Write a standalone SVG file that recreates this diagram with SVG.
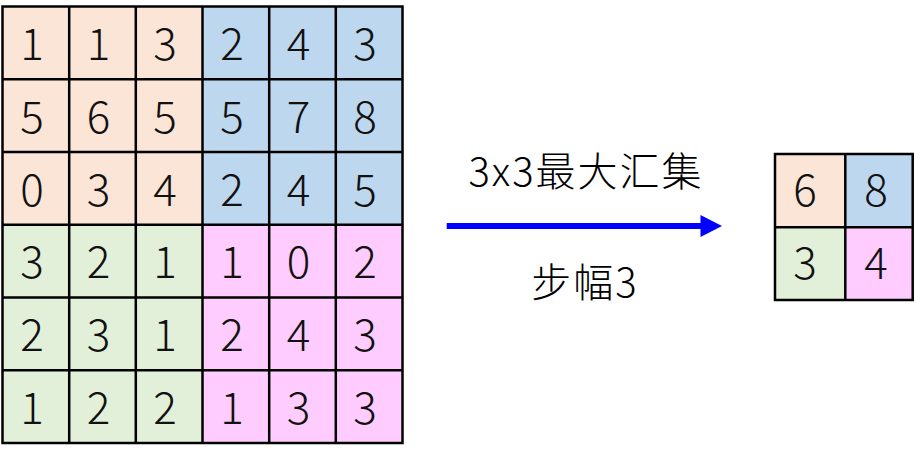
<svg xmlns="http://www.w3.org/2000/svg" width="915" height="462" viewBox="0 0 915 462">
<style>
.c{stroke:#000;stroke-width:2.5}
.o{fill:#FBE5D6}.b{fill:#BDD7EE}.g{fill:#E2F0D9}.p{fill:#FFCCFF}
.t{font-family:"Noto Sans CJK SC","Noto Sans",sans-serif;font-size:44px;font-weight:300;fill:#111;text-anchor:middle}
.l{font-family:"Noto Sans CJK SC","Noto Sans",sans-serif;font-size:40px;font-weight:300;letter-spacing:2px;fill:#000;text-anchor:middle}
</style>
<rect width="915" height="462" fill="#fff"/>
<g id="input-grid">
<rect class="o" x="2.5" y="6.5" width="200" height="218.3"/>
<rect class="b" x="202.5" y="6.5" width="200" height="218.3"/>
<rect class="g" x="2.5" y="224.8" width="200" height="218.2"/>
<rect class="p" x="202.5" y="224.8" width="200" height="218.2"/>
<g class="c" fill="none">
<rect x="2.5" y="6.5" width="400" height="436.5"/>
<path d="M69.2 6.5V443M135.8 6.5V443M202.5 6.5V443M269.2 6.5V443M335.8 6.5V443M2.5 79.3H402.5M2.5 152H402.5M2.5 224.8H402.5M2.5 297.5H402.5M2.5 370.3H402.5"/>
</g>
<g class="t">
<text x="32" y="60">1</text><text x="98.5" y="60">1</text><text x="165" y="60">3</text><text x="232" y="60">2</text><text x="298.5" y="60">4</text><text x="365" y="60">3</text>
<text x="32" y="133">5</text><text x="98.5" y="133">6</text><text x="165" y="133">5</text><text x="232" y="133">5</text><text x="298.5" y="133">7</text><text x="365" y="133">8</text>
<text x="32" y="205.5">0</text><text x="98.5" y="205.5">3</text><text x="165" y="205.5">4</text><text x="232" y="205.5">2</text><text x="298.5" y="205.5">4</text><text x="365" y="205.5">5</text>
<text x="32" y="278">3</text><text x="98.5" y="278">2</text><text x="165" y="278">1</text><text x="232" y="278">1</text><text x="298.5" y="278">0</text><text x="365" y="278">2</text>
<text x="32" y="351">2</text><text x="98.5" y="351">3</text><text x="165" y="351">1</text><text x="232" y="351">2</text><text x="298.5" y="351">4</text><text x="365" y="351">3</text>
<text x="32" y="424">1</text><text x="98.5" y="424">2</text><text x="165" y="424">2</text><text x="232" y="424">1</text><text x="298.5" y="424">3</text><text x="365" y="424">3</text>
</g>
</g>
<g id="connectors">
<path d="M446.7 226H703" stroke="#0000FF" stroke-width="6" fill="none"/>
<polygon points="700.5,215 722,226 700.5,237" fill="#0000FF"/>
</g>
<g id="labels">
<text class="l" x="586" y="186">3x3最大汇集</text>
<text class="l" x="585" y="297">步幅3</text>
</g>
<g id="output-grid">
<rect class="o" x="775" y="154" width="70.3" height="73.3"/>
<rect class="b" x="845.3" y="154" width="67.4" height="73.3"/>
<rect class="g" x="775" y="227.3" width="70.3" height="72.7"/>
<rect class="p" x="845.3" y="227.3" width="67.4" height="72.7"/>
<g class="c" fill="none">
<rect x="775" y="154" width="137.7" height="146"/>
<path d="M845.3 154V300M775 227.3H912.7"/>
</g>
<g class="t">
<text x="805" y="206">6</text><text x="876" y="206">8</text>
<text x="805" y="279">3</text><text x="876" y="279">4</text>
</g>
</g>
</svg>
